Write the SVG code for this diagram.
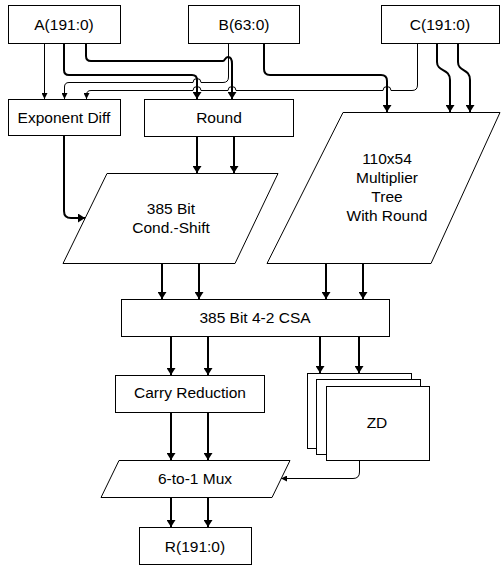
<svg xmlns="http://www.w3.org/2000/svg" width="503" height="565" viewBox="0 0 503 565">
<style>
.box{fill:#fff;stroke:#000;stroke-width:1}
.t{font-family:"Liberation Sans",Arial,sans-serif;font-size:15.5px;fill:#000;text-anchor:middle}
.thick{fill:none;stroke:#000;stroke-width:2}
.thin{fill:none;stroke:#000;stroke-width:1}
</style>
<defs>
<marker id="ak" markerUnits="userSpaceOnUse" viewBox="0 0 7 9" refX="7" refY="4.5" markerWidth="7" markerHeight="9" orient="auto"><path d="M0 0L7 4.5L0 9z" fill="#000"/></marker>
<marker id="an" markerUnits="userSpaceOnUse" viewBox="0 0 6 6" refX="6" refY="3" markerWidth="6" markerHeight="6" orient="auto"><path d="M0 0L6 3L0 6z" fill="#000"/></marker>
</defs>
<rect width="503" height="565" fill="#fff"/>
<g id="connectors">
<path class="thin" d="M44.5 43V99" marker-end="url(#an)"/>
<path class="thick" d="M64 43V70Q64 75 69 75H192Q197 75 197 80V99" marker-end="url(#ak)"/>
<path class="thick" d="M86 43V56Q86 61 91 61H223C225 61 225 57 228 57C231 57 232 59 232 64V99" marker-end="url(#ak)"/>
<path class="thin" d="M228.5 43V77Q228.5 82.5 223 82.5H201A4 4 0 0 0 193 82.5H69Q64.5 82.5 64.5 87V99" marker-end="url(#an)"/>
<path class="thin" d="M417.5 43V85Q417.5 90.5 412 90.5H391A4 4 0 0 0 383 90.5H236A4 4 0 0 0 228 90.5H201A4 4 0 0 0 193 90.5H91Q86.5 90.5 86.5 95V99" marker-end="url(#an)"/>
<path class="thick" d="M264 43V69Q264 75 270 75H381Q387 75 387 81V112" marker-end="url(#ak)"/>
<path class="thick" d="M437 43V62C437 72 450 68 450 80V112" marker-end="url(#ak)"/>
<path class="thick" d="M458 43V62C458 72 470 68 470 80V112" marker-end="url(#ak)"/>
<path class="thick" d="M64 135V211Q64 218 71 218H85" marker-end="url(#ak)"/>
<path class="thick" d="M197 136V173" marker-end="url(#ak)"/>
<path class="thick" d="M234 136V173" marker-end="url(#ak)"/>
<path class="thick" d="M162 263V299" marker-end="url(#ak)"/>
<path class="thick" d="M199 263V299" marker-end="url(#ak)"/>
<path class="thick" d="M326 263V299" marker-end="url(#ak)"/>
<path class="thick" d="M363 263V299" marker-end="url(#ak)"/>
<path class="thick" d="M171 336V375" marker-end="url(#ak)"/>
<path class="thick" d="M208 336V375" marker-end="url(#ak)"/>
<path class="thick" d="M320 336V373" marker-end="url(#ak)"/>
<path class="thick" d="M359 336V373" marker-end="url(#ak)"/>
<path class="thick" d="M171 412V460" marker-end="url(#ak)"/>
<path class="thick" d="M208 412V460" marker-end="url(#ak)"/>
<path class="thin" d="M359.5 460V472Q359.5 478.5 353 478.5H281" marker-end="url(#an)"/>
<path class="thick" d="M171 497V527" marker-end="url(#ak)"/>
<path class="thick" d="M208 497V527" marker-end="url(#ak)"/>
</g>
<g id="nodeA"><rect class="box" x="8.5" y="5.5" width="112" height="38"/><text class="t" x="64" y="30">A(191:0)</text></g>
<g id="nodeB"><rect class="box" x="188.5" y="5.5" width="111" height="38"/><text class="t" x="244" y="30">B(63:0)</text></g>
<g id="nodeC"><rect class="box" x="381.5" y="5.5" width="118" height="38"/><text class="t" x="440" y="30">C(191:0)</text></g>
<g id="expdiff"><rect class="box" x="8.5" y="99.5" width="112" height="36"/><text class="t" x="64" y="122.5">Exponent Diff</text></g>
<g id="round"><rect class="box" x="144.5" y="99.5" width="149" height="37"/><text class="t" x="219" y="123">Round</text></g>
<g id="condshift"><polygon class="box" points="107,173.5 278,173.5 235,263.5 63,263.5"/><text class="t" x="171" y="214">385 Bit</text><text class="t" x="171" y="233">Cond.-Shift</text></g>
<g id="mult"><polygon class="box" points="343,112.5 500,112.5 431,263.5 267,263.5"/><text class="t" x="387" y="164">110x54</text><text class="t" x="387" y="183">Multiplier</text><text class="t" x="387" y="202">Tree</text><text class="t" x="387" y="221">With Round</text></g>
<g id="csa"><rect class="box" x="121.5" y="299.5" width="268" height="37"/><text class="t" x="255" y="323">385 Bit 4-2 CSA</text></g>
<g id="carry"><rect class="box" x="115.5" y="375.5" width="149" height="37"/><text class="t" x="190" y="398">Carry Reduction</text></g>
<g id="zd"><rect class="box" x="307.5" y="373.5" width="104" height="75"/><rect class="box" x="316.5" y="379.5" width="104" height="75"/><rect class="box" x="326.5" y="386.5" width="103" height="74"/><text class="t" x="377" y="428">ZD</text></g>
<g id="mux"><polygon class="box" points="119,460.5 290,460.5 272,497.5 101,497.5"/><text class="t" x="195" y="484">6-to-1 Mux</text></g>
<g id="nodeR"><rect class="box" x="139.5" y="527.5" width="112" height="37"/><text class="t" x="195" y="552">R(191:0)</text></g>
</svg>
